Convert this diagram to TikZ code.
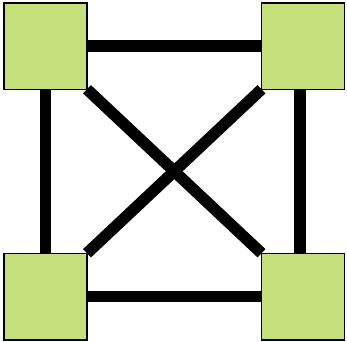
\documentclass[tikz,border=0pt]{standalone}
\usetikzlibrary{backgrounds}
\definecolor{boxgreen}{RGB}{197,224,122}
\begin{document}
\begin{tikzpicture}[x=1pt,y=-1pt,
  sq/.style={draw=black,line width=1.5pt,fill=boxgreen,minimum width=83pt,minimum height=86.5pt,inner sep=0pt,outer sep=0pt},
  link/.style={line width=11.5pt,line cap=butt}]
\useasboundingbox (0,0) rectangle (347,341);
\node[sq] (tl) at (45.5,46) {};
\node[sq] (tr) at (303,46) {};
\node[sq] (bl) at (45.5,296.5) {};
\node[sq] (br) at (303,296.5) {};
\begin{scope}[on background layer]
\draw[link] (tl.east) -- (tr.west);
\draw[link] (bl.east) -- (br.west);
\draw[link] (tl.south) -- (bl.north);
\draw[link] ([xshift=-3pt]tr.south) -- ([xshift=-3pt]br.north);
\draw[link] (tl.south east) -- (br.north west);
\draw[link] (tr.south west) -- (bl.north east);
\end{scope}
\end{tikzpicture}
\end{document}
